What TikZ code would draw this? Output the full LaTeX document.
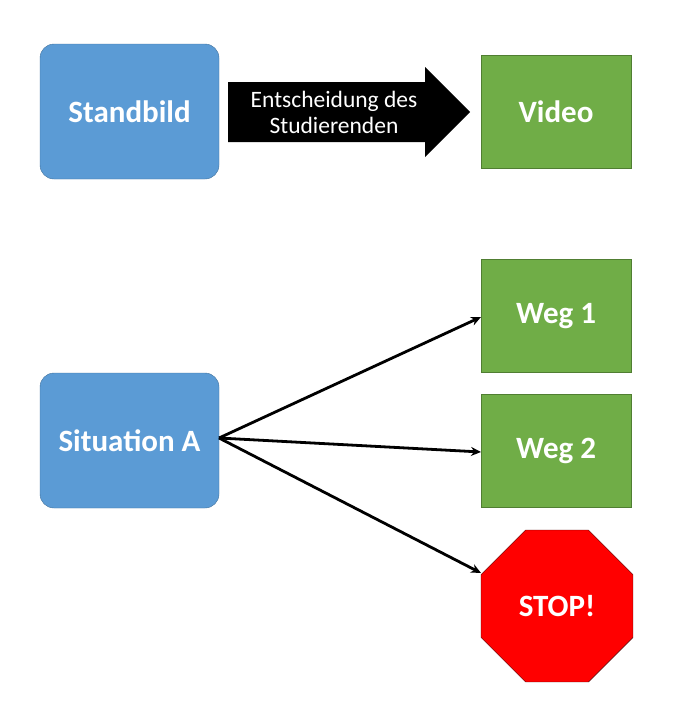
\documentclass[tikz,border=0pt]{standalone}
\usepackage{fontspec}
\setmainfont{Carlito}
\usetikzlibrary{shapes.geometric,arrows.meta}
\definecolor{cblue}{HTML}{5B9BD5}
\definecolor{cgreen}{HTML}{70AD47}
\definecolor{cborder}{HTML}{41719C}
\definecolor{gborder}{HTML}{507E32}
\begin{document}
\begin{tikzpicture}[x=1pt,y=-1pt,
  bigtext/.style={text=white,font=\fontsize{31}{36}\selectfont\bfseries},
  bluebox/.style={bigtext,draw=cborder,fill=cblue,rounded corners=14pt,minimum width=179pt,minimum height=135pt,inner sep=0},
  greenbox/.style={bigtext,draw=gborder,fill=cgreen,minimum width=150pt,minimum height=113pt,inner sep=0},
  conn/.style={line width=2.8pt,-{Stealth[length=10pt,width=9pt]}}]
\useasboundingbox (0,0) rectangle (674,720);
\node[bluebox] (sb) at (129.5,111.5) {Standbild};
\node[greenbox] (vid) at (556,111.5) {Video};
\node[greenbox] (w1) at (556,316) {Weg 1};
\node[greenbox] (w2) at (556,451) {Weg 2};
\node[bluebox] (sa) at (129.5,440.5) {Situation A};
\node[bigtext,regular polygon,regular polygon sides=8,minimum size=164.5pt,inner sep=0,fill=red,draw=black!70!red] (stop) at (557,606) {STOP!};
\fill[black] (228,82) -- (425,82) -- (425,67) -- (470,112) -- (425,157) -- (425,142) -- (228,142) -- cycle;
\node[text=white,align=center,font=\fontsize{23.5}{26}\selectfont] (lab) at (334,112) {Entscheidung des\\Studierenden};
\coordinate (s0) at (219,438);
\coordinate (e1) at (481,317);
\coordinate (e2) at (481,452);
\coordinate (e3) at (481,573);
\draw[conn] (s0) -- (e1);
\draw[conn] (s0) -- (e2);
\draw[conn] (s0) -- (e3);
\end{tikzpicture}
\end{document}
